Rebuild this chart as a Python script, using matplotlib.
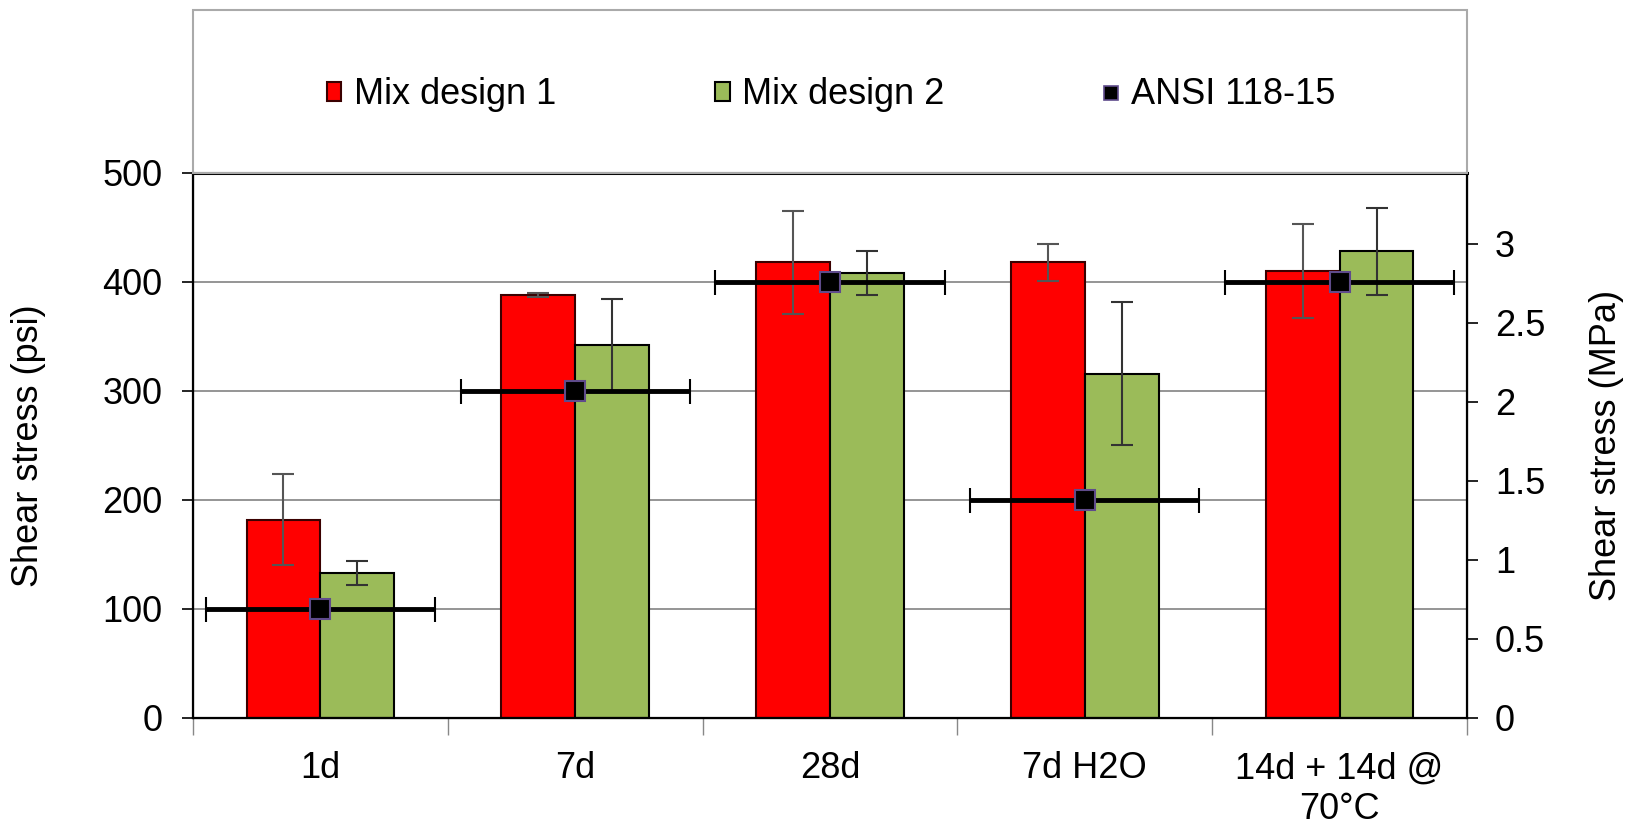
import matplotlib.pyplot as plt
import numpy as np
from matplotlib.lines import Line2D
from matplotlib.patches import Rectangle

plt.rcParams['font.family'] = ['Liberation Sans', 'DejaVu Sans']

categorias = ["1d", "7d", "28d", "7d H2O", "14d + 14d @\n70°C"]
mix1 = [182, 388, 418, 418, 410]
mix1_err = [42, 1.5, 47, 17, 43]
mix2 = [133, 342, 408, 316, 428]
mix2_err = [11, 42, 20, 66, 40]
ansi = [100, 300, 400, 200, 400]

PSI_PARA_MPA = 0.00689476

fig = plt.figure(figsize=(16.26, 8.26), dpi=100)
ax = fig.add_axes([0.1187, 0.1308, 0.7835, 0.6598])

x = np.arange(len(categorias))
larg = 0.29

ax.bar(x - larg / 2, mix1, larg, color='#ff0000', edgecolor='#3a0000', linewidth=1.5,
       label="Mix design 1", zorder=2)
ax.bar(x + larg / 2, mix2, larg, color='#9bbb59', edgecolor='#000000', linewidth=1.5,
       label="Mix design 2", zorder=2)
ax.errorbar(x - larg / 2, mix1, yerr=mix1_err, fmt='none', ecolor='#555555',
            elinewidth=1.5, capsize=8, capthick=1.5, zorder=3)
ax.errorbar(x + larg / 2, mix2, yerr=mix2_err, fmt='none', ecolor='#333333',
            elinewidth=1.5, capsize=8, capthick=1.5, zorder=3)
ax.errorbar(x, ansi, xerr=0.45, fmt='s', color='black', ms=15, mfc='black',
            mec='#5f4b8b', mew=1.5, ecolor='black', elinewidth=3.5,
            capsize=9, capthick=3.5, zorder=4)

ax.set_xlim(-0.5, len(categorias) - 0.5)
ax.set_ylim(0, 500)
ax.set_yticks(range(0, 501, 100))
ax.yaxis.grid(True, color='#8c8c8c', linewidth=1.3, zorder=0)
ax.set_axisbelow(True)

ax.set_xticks(x)
ax.set_xticklabels(categorias, fontsize=26, linespacing=1.2)
ax.set_xticks(np.arange(-0.5, len(categorias)), minor=True)
ax.tick_params(axis='x', which='major', length=0, pad=24)
ax.tick_params(axis='x', which='minor', length=12, width=1, color='#888888')
ax.tick_params(axis='y', labelsize=26, length=8, width=1.2, pad=14)
ax.set_ylabel("Shear stress (psi)", fontsize=26)
ax.yaxis.set_label_coords(-0.115, 0.5)

for lado in ax.spines.values():
    lado.set_linewidth(1.6)
ax.spines['top'].set_linewidth(2.2)

ax2 = ax.twinx()
ax2.set_ylim(0, 500 * PSI_PARA_MPA)
ax2.set_yticks(np.arange(0, 3.01, 0.5))
ax2.set_yticklabels(["%g" % v for v in np.arange(0, 3.01, 0.5)])
ax2.tick_params(axis='y', labelsize=26, length=8, width=1.2, pad=12)
ax2.set_ylabel("Shear stress (MPa)", fontsize=26)
ax2.yaxis.set_label_coords(1.096, 0.5)

# caixa da legenda acima do gráfico
caixa = Rectangle((0.1187, 0.7906), 0.7835, 0.1968, transform=fig.transFigure,
                  fill=False, edgecolor='#aaaaaa', linewidth=1.5)
fig.patches.append(caixa)

handles, labels = ax.get_legend_handles_labels()
handles.append(Line2D([], [], linestyle='none', marker='s', ms=10, mfc='black',
                      mec='#5f4b8b', mew=1.2))
labels.append("ANSI 118-15")
fig.legend(handles, labels, loc='center', bbox_to_anchor=(0.511, 0.885), ncol=3,
           frameon=False, fontsize=26, handlelength=0.4, handleheight=0.4,
           handletextpad=0.35, columnspacing=4.4)

plt.savefig("out.png", dpi=100)
